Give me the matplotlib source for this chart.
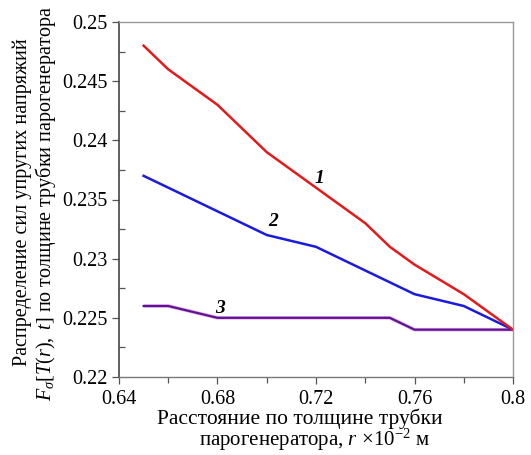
import matplotlib
matplotlib.use('Agg')
import matplotlib.pyplot as plt
from matplotlib.ticker import MultipleLocator, FuncFormatter

plt.rcParams['font.family'] = ['Liberation Serif', 'DejaVu Serif']
plt.rcParams['mathtext.fontset'] = 'custom'
plt.rcParams['mathtext.rm'] = 'Liberation Serif'
plt.rcParams['mathtext.it'] = 'Liberation Serif:italic'
plt.rcParams['mathtext.bf'] = 'Liberation Serif:bold'

# curve 1
r1 = [0.65, 0.66, 0.68, 0.70, 0.72, 0.74, 0.75, 0.76, 0.78, 0.80]
f1 = [0.248, 0.246, 0.243, 0.239, 0.236, 0.233, 0.231, 0.2295, 0.227, 0.224]
# curve 2
r2 = [0.65, 0.70, 0.72, 0.74, 0.76, 0.78, 0.80]
f2 = [0.237, 0.232, 0.231, 0.229, 0.227, 0.226, 0.224]
# curve 3
r3 = [0.65, 0.66, 0.68, 0.75, 0.76, 0.80]
f3 = [0.226, 0.226, 0.225, 0.225, 0.224, 0.224]

curve_labels = ['1', '2', '3']
label_pos = [(0.7215, 0.2368), (0.7025, 0.2331), (0.681, 0.2258)]

W, H = 531, 455
fig = plt.figure(figsize=(W / 100, H / 100), dpi=100)
ax = fig.add_axes([119 / W, 1 - 377 / H, (513 - 119) / W, (377 - 22) / H])

ax.plot(r3, f3, color='#f0a8f0', lw=2.6, solid_capstyle='butt')
ax.plot(r3, f3, color='#5a1890', lw=1.6)
ax.plot(r2, f2, color='#1a1ae0', lw=1.8)
ax.plot(r1, f1, color='#e31a1c', lw=1.8)

for txt, (x, y) in zip(curve_labels, label_pos):
    ax.text(x, y, txt, fontsize=14, fontweight='bold', fontstyle='italic',
            ha='center', va='center')

ax.set_xlim(0.64, 0.80)
ax.set_ylim(0.22, 0.25)
ax.xaxis.set_major_locator(MultipleLocator(0.04))
ax.xaxis.set_minor_locator(MultipleLocator(0.02))
ax.yaxis.set_major_locator(MultipleLocator(0.005))
ax.yaxis.set_minor_locator(MultipleLocator(0.0025))
ax.xaxis.set_major_formatter(FuncFormatter(lambda v, p: f'{round(v, 3):g}'))
ax.yaxis.set_major_formatter(FuncFormatter(lambda v, p: f'{round(v, 4):g}'))

ax.tick_params(axis='both', which='major', labelsize=14.5, length=5, width=0.9,
               color='#555555', direction='out', pad=3,
               labelfontfamily='Liberation Serif')
ax.tick_params(axis='x', which='major', pad=4)
ax.tick_params(axis='x', which='minor', length=4, width=0.9, color='#555555',
               direction='out')
ax.tick_params(axis='y', which='minor', length=4, width=0.9, color='#555555',
               direction='in')

for side in ['top', 'right']:
    ax.spines[side].set_color('#999999')
    ax.spines[side].set_linewidth(1.0)
ax.spines['left'].set_color('#444444')
ax.spines['bottom'].set_color('#777777')
ax.spines['left'].set_linewidth(1.2)
ax.spines['bottom'].set_linewidth(1.0)

# axis titles, placed line by line
fig.text(300 / W, 1 - 419 / H, 'Расстояние по толщине трубки',
         fontsize=15.5, ha='center', va='center')
fig.text(315 / W, 1 - 440 / H, 'парогенератора, $r$ ×10$^{-2}$ м',
         fontsize=15, ha='center', va='center')
fig.text(22 / W, 1 - 202 / H, 'Распределение сил упругих напряжий',
         fontsize=14.5, rotation=90, ha='center', va='center')
fig.text(46 / W, 1 - 204 / H,
         r'$F_\sigma[T(r),\ t]$ по толщине трубки парогенератора',
         fontsize=14.5, rotation=90, ha='center', va='center')

fig.savefig('out.png', dpi=100)
